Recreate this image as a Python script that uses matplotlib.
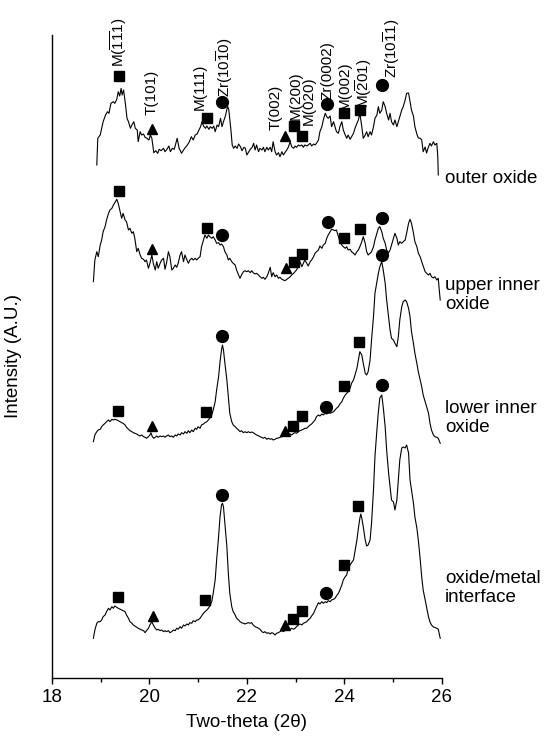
import numpy as np
import matplotlib
matplotlib.use('Agg')
import matplotlib.pyplot as plt
from matplotlib.ticker import MultipleLocator

plt.rcParams['font.family'] = ['Liberation Sans', 'DejaVu Sans']
plt.rcParams['mathtext.fontset'] = 'custom'
plt.rcParams['mathtext.rm'] = 'Liberation Sans'
plt.rcParams['mathtext.it'] = 'Liberation Sans:italic'
plt.rcParams['mathtext.bf'] = 'Liberation Sans:bold'

# --------------------------
# data: (two-theta, intensity above the trace baseline)
# --------------------------
outer_oxide = [
    (18.92, 3), (18.94, 29.7), (18.99, 33), (19.05, 46.3), (19.10, 53), (19.14, 56.3), (19.17, 54.7),
    (19.21, 64.7), (19.26, 66.3), (19.29, 64.7), (19.33, 68.7), (19.36, 76.3), (19.39, 72), (19.42, 79.7),
    (19.44, 73), (19.47, 78), (19.51, 63), (19.54, 49.7), (19.57, 46.3), (19.61, 39.7), (19.64, 43),
    (19.68, 46.3), (19.71, 39.7), (19.75, 38), (19.77, 26.3), (19.81, 36.3), (19.84, 33), (19.88, 34),
    (19.91, 30.7), (19.95, 29.7), (19.99, 28), (20.02, 33), (20.05, 29.7), (20.09, 15.3), (20.13, 17.3),
    (20.17, 14.7), (20.20, 18.7), (20.24, 17.3), (20.29, 19.7), (20.32, 16.3), (20.36, 18.7), (20.40, 22),
    (20.43, 16.3), (20.47, 19.7), (20.51, 18.7), (20.55, 26.3), (20.57, 29.7), (20.61, 19.7), (20.66, 14.7),
    (20.70, 18), (20.74, 20.7), (20.78, 23), (20.82, 26.3), (20.86, 31.3), (20.90, 28), (20.94, 33),
    (20.98, 34), (21.01, 37.3), (21.05, 41.3), (21.08, 46.3), (21.11, 42), (21.15, 39.7), (21.18, 42),
    (21.22, 38.7), (21.25, 41.3), (21.29, 39.7), (21.32, 42), (21.35, 36.3), (21.39, 43), (21.42, 41.3),
    (21.46, 49.7), (21.49, 41.3), (21.52, 46.3), (21.56, 52), (21.59, 58.7), (21.61, 61.3), (21.63, 58),
    (21.67, 39.7), (21.70, 23), (21.73, 19.7), (21.76, 22), (21.80, 19.7), (21.83, 24), (21.87, 21.3),
    (21.90, 17.3), (21.94, 20.7), (21.97, 19.7), (22.00, 13), (22.04, 16.3), (22.07, 18.7), (22.11, 20.7),
    (22.14, 24.7), (22.17, 18), (22.20, 23), (22.24, 16.3), (22.27, 19.7), (22.31, 18), (22.34, 20.7),
    (22.37, 16.3), (22.41, 20.7), (22.44, 18), (22.48, 20.7), (22.51, 16.3), (22.54, 26.3), (22.58, 16.3),
    (22.61, 13), (22.65, 15.3), (22.68, 11.3), (22.72, 16.3), (22.75, 13), (22.78, 15.3), (22.82, 18),
    (22.85, 20.7), (22.89, 26.3), (22.92, 21.3), (22.96, 19.7), (22.99, 22), (23.02, 20.7), (23.06, 23),
    (23.09, 22), (23.13, 23), (23.16, 20.7), (23.19, 23), (23.23, 22), (23.26, 23), (23.30, 24.7),
    (23.33, 22), (23.37, 24), (23.40, 23), (23.43, 24.7), (23.47, 28), (23.50, 36.3), (23.54, 41.3),
    (23.57, 48), (23.61, 54.7), (23.64, 51.3), (23.67, 49.7), (23.71, 52), (23.74, 41.3), (23.78, 46.3),
    (23.81, 41.3), (23.84, 36.3), (23.88, 34.7), (23.91, 41.3), (23.95, 46.3), (23.98, 38), (24.02, 33),
    (24.05, 29.7), (24.08, 33), (24.12, 28.7), (24.15, 31.3), (24.19, 34.7), (24.22, 39.7), (24.26, 44.7),
    (24.29, 48), (24.32, 54.7), (24.36, 41.3), (24.39, 29.7), (24.43, 33), (24.46, 36.3), (24.49, 31.3),
    (24.53, 36.3), (24.56, 33), (24.60, 41.3), (24.63, 49.7), (24.67, 53), (24.70, 61.3), (24.73, 54.7),
    (24.77, 58), (24.80, 66.3), (24.84, 61.3), (24.87, 54.7), (24.91, 48), (24.94, 54.7), (24.97, 46.3),
    (25.01, 43), (25.04, 48), (25.08, 41.3), (25.11, 46.3), (25.14, 51.3), (25.18, 58), (25.21, 61.3),
    (25.25, 68), (25.28, 74.7), (25.32, 75), (25.35, 66.3), (25.38, 58), (25.42, 52), (25.45, 41.3),
    (25.49, 34), (25.52, 30), (25.56, 29.7), (25.59, 28), (25.62, 16.3), (25.66, 21), (25.69, 15),
    (25.73, 21.3), (25.76, 24.7), (25.79, 22), (25.83, 26.3), (25.86, 23), (25.90, 24.7), (25.92, 11.3),
    (25.93, -7),
]

upper_inner = [
    (18.85, 8.3), (18.88, 30), (18.92, 38.3), (18.95, 33.3), (18.99, 45), (19.02, 50), (19.05, 58.3),
    (19.09, 63.3), (19.12, 70), (19.16, 76.7), (19.19, 80), (19.23, 81.7), (19.26, 85), (19.29, 87.3),
    (19.33, 90.7), (19.36, 86.7), (19.40, 78.3), (19.43, 71.7), (19.46, 76.7), (19.50, 70), (19.53, 68.3),
    (19.57, 60), (19.60, 61.7), (19.64, 56.7), (19.67, 58.3), (19.70, 51.7), (19.74, 38.3), (19.77, 41.7),
    (19.81, 35), (19.84, 31.7), (19.88, 30.7), (19.91, 28.3), (19.94, 30), (19.98, 21.7), (20.01, 26.7),
    (20.05, 35), (20.08, 26.7), (20.12, 20), (20.15, 28.3), (20.18, 21.7), (20.22, 26.7), (20.25, 30),
    (20.29, 31.7), (20.32, 20.7), (20.35, 26.7), (20.39, 38.3), (20.42, 33.3), (20.46, 20), (20.49, 21.7),
    (20.53, 25), (20.56, 22.7), (20.59, 26.7), (20.63, 35), (20.66, 38.3), (20.70, 28.3), (20.73, 35),
    (20.77, 30), (20.80, 26.7), (20.83, 30), (20.87, 31.7), (20.90, 30), (20.94, 31.7), (20.97, 30),
    (21.00, 31.7), (21.04, 33.3), (21.07, 43.3), (21.11, 50), (21.14, 55), (21.18, 51.7), (21.21, 55),
    (21.24, 53.3), (21.28, 51.7), (21.31, 53.3), (21.35, 50), (21.38, 46.7), (21.42, 47.3), (21.45, 45),
    (21.48, 46), (21.52, 43.3), (21.55, 38.3), (21.59, 35), (21.62, 30), (21.65, 31.7), (21.69, 28.3),
    (21.72, 26.7), (21.76, 25), (21.79, 20), (21.83, 15), (21.86, 11.7), (21.89, 15), (21.93, 18.3),
    (21.96, 19.3), (22.00, 18.3), (22.03, 19.3), (22.07, 17.3), (22.10, 19.3), (22.13, 17.3), (22.17, 16),
    (22.20, 16.7), (22.24, 15), (22.27, 13.3), (22.31, 11.7), (22.34, 12.7), (22.37, 10.7), (22.41, 13.3),
    (22.44, 16.7), (22.48, 22.7), (22.51, 13.3), (22.54, 17.3), (22.58, 13.3), (22.61, 15), (22.65, 11.7),
    (22.68, 12.7), (22.72, 10.7), (22.75, 10), (22.78, 9.3), (22.82, 10.7), (22.85, 11.7), (22.89, 13.3),
    (22.92, 15), (22.96, 16.7), (22.99, 18.3), (23.02, 20), (23.06, 24), (23.09, 28.3), (23.13, 23.3),
    (23.16, 26.7), (23.19, 30), (23.23, 26.7), (23.26, 24), (23.30, 28.3), (23.33, 30), (23.37, 33.3),
    (23.40, 36.7), (23.43, 38.3), (23.47, 40), (23.50, 44), (23.54, 41.7), (23.57, 45), (23.61, 46.7),
    (23.64, 51.7), (23.67, 55), (23.71, 58.3), (23.74, 60.7), (23.78, 60), (23.81, 59.3), (23.84, 60),
    (23.88, 53.3), (23.91, 48.3), (23.95, 45), (23.98, 43.3), (24.02, 41.7), (24.05, 43.3), (24.08, 40),
    (24.12, 40.7), (24.15, 38.3), (24.19, 36.7), (24.22, 35), (24.26, 38.3), (24.29, 40), (24.32, 43.3),
    (24.36, 48.3), (24.39, 53.3), (24.43, 46.7), (24.46, 38.3), (24.49, 35), (24.53, 36.7), (24.56, 38.3),
    (24.60, 43.3), (24.63, 50), (24.67, 56.7), (24.70, 61.7), (24.73, 63.3), (24.77, 58.3), (24.80, 51.7),
    (24.84, 46.7), (24.87, 40), (24.91, 37.3), (24.94, 40), (24.97, 45), (25.01, 51.7), (25.04, 56.7),
    (25.08, 51.7), (25.11, 45), (25.14, 48.3), (25.18, 46.7), (25.21, 48.3), (25.25, 50), (25.28, 56.7),
    (25.32, 66.7), (25.35, 70.7), (25.38, 66.7), (25.42, 57), (25.45, 48.3), (25.49, 43.3), (25.52, 37),
    (25.56, 33), (25.59, 28.3), (25.62, 24), (25.66, 18.3), (25.69, 16.7), (25.73, 15), (25.76, 16.7),
    (25.79, 13.3), (25.83, 12), (25.86, 13.3), (25.90, 10), (25.93, 11.7), (25.95, 0), (25.97, -10),
]

lower_inner = [
    (18.85, -1.7), (18.88, 5), (18.92, 8.3), (18.95, 10), (18.99, 10.7), (19.02, 13.3), (19.05, 15),
    (19.09, 16.7), (19.12, 18.3), (19.16, 20), (19.19, 18.3), (19.23, 20.7), (19.26, 20), (19.29, 20.7),
    (19.33, 20), (19.36, 19.3), (19.40, 18.3), (19.43, 17.3), (19.46, 16.7), (19.50, 15), (19.53, 12.7),
    (19.57, 10.7), (19.60, 9.3), (19.64, 8.3), (19.67, 7.3), (19.70, 6.7), (19.74, 6), (19.77, 5),
    (19.81, 4), (19.84, 5), (19.88, 3.3), (19.91, 2.7), (19.94, 1.7), (19.98, 3.3), (20.01, 5), (20.03, 7.3),
    (20.06, 3.3), (20.09, 1.7), (20.12, 2.7), (20.15, 4), (20.18, 2.7), (20.22, 4), (20.25, 3.3), (20.29, 4),
    (20.32, 2.7), (20.35, 4), (20.39, 5), (20.42, 3.3), (20.46, 4), (20.49, 2.7), (20.53, 5), (20.56, 4),
    (20.59, 6), (20.63, 5), (20.66, 7.3), (20.70, 6), (20.73, 8.3), (20.77, 6.7), (20.80, 9.3), (20.83, 7.3),
    (20.87, 10), (20.90, 8.3), (20.94, 11.7), (20.97, 10.7), (21.00, 13.3), (21.04, 11.7), (21.07, 15),
    (21.11, 16), (21.14, 17.3), (21.18, 18.3), (21.21, 20), (21.24, 21.7), (21.28, 25), (21.31, 30),
    (21.35, 38.3), (21.38, 50), (21.42, 63.3), (21.45, 78.3), (21.48, 90), (21.50, 95), (21.52, 90),
    (21.55, 76.7), (21.59, 60), (21.62, 43.3), (21.65, 26.7), (21.69, 18.3), (21.72, 15), (21.76, 13.3),
    (21.79, 11.7), (21.83, 10), (21.86, 8.3), (21.89, 9.3), (21.93, 7.3), (21.96, 8.3), (22.00, 7.3),
    (22.03, 8.3), (22.07, 7.3), (22.10, 8), (22.13, 7.3), (22.17, 6), (22.20, 5), (22.24, 4.2), (22.27, 3.3),
    (22.31, 2.5), (22.34, 1.7), (22.37, 2.7), (22.41, 0.7), (22.44, 1.7), (22.48, 0.7), (22.51, 1.3),
    (22.54, 0), (22.58, 0.7), (22.61, 1.7), (22.65, 2), (22.68, 2.7), (22.72, 3.3), (22.75, 4), (22.78, 4),
    (22.82, 5), (22.85, 4), (22.89, 6), (22.92, 5), (22.96, 6.7), (22.99, 7.3), (23.02, 6.7), (23.06, 8.3),
    (23.09, 9.3), (23.13, 10), (23.16, 10.7), (23.19, 11.7), (23.23, 11.7), (23.26, 13.3), (23.30, 15),
    (23.33, 16), (23.37, 18.3), (23.40, 20), (23.43, 23.3), (23.47, 25), (23.50, 24), (23.54, 26),
    (23.57, 25), (23.61, 26.7), (23.64, 26), (23.67, 27.3), (23.71, 26.7), (23.74, 27.3), (23.78, 28.3),
    (23.81, 30), (23.84, 31.7), (23.88, 33.3), (23.91, 36), (23.95, 38.3), (23.98, 41.7), (24.02, 45),
    (24.05, 46.7), (24.08, 48.3), (24.12, 51.7), (24.15, 56.7), (24.19, 60), (24.22, 65), (24.26, 71.7),
    (24.29, 80), (24.32, 88.3), (24.36, 85), (24.39, 76.7), (24.43, 66.7), (24.46, 65), (24.49, 68.3),
    (24.53, 80), (24.56, 100), (24.60, 123.3), (24.63, 146.7), (24.67, 158.3), (24.70, 166.7),
    (24.73, 173.3), (24.77, 178.3), (24.80, 170), (24.84, 156.7), (24.87, 140), (24.91, 123.3),
    (24.94, 110), (24.97, 101.7), (25.01, 100), (25.04, 96.7), (25.08, 93.3), (25.11, 103.3), (25.14, 120),
    (25.18, 133.3), (25.21, 138.3), (25.25, 140), (25.28, 138.3), (25.32, 131.7), (25.35, 123.3),
    (25.38, 108.3), (25.42, 96.7), (25.45, 86.7), (25.49, 76.7), (25.52, 68.3), (25.56, 60), (25.59, 53.3),
    (25.62, 45), (25.69, 33.3), (25.73, 26.7), (25.76, 16.7), (25.79, 10), (25.83, 5), (25.86, 3.3),
    (25.90, 2.7), (25.93, 1.7), (25.97, -3.3),
]

interface = [
    (18.85, 1.7), (18.88, 10), (18.92, 16.7), (18.95, 18.3), (18.99, 18.3), (19.02, 20), (19.05, 23.3),
    (19.09, 25), (19.12, 28.3), (19.16, 31.7), (19.19, 30), (19.23, 33.3), (19.26, 31.7), (19.29, 34),
    (19.33, 32.7), (19.36, 31.7), (19.40, 30.7), (19.43, 30), (19.46, 29.3), (19.50, 28.3), (19.53, 25),
    (19.57, 21.7), (19.60, 18.3), (19.64, 16.7), (19.67, 15), (19.70, 14), (19.74, 12.7), (19.77, 11.7),
    (19.81, 10.7), (19.84, 10), (19.88, 9.3), (19.91, 7.3), (19.94, 9.3), (19.98, 11.7), (20.01, 15),
    (20.05, 18.3), (20.08, 15), (20.12, 11.7), (20.15, 10), (20.18, 10.7), (20.22, 9.3), (20.25, 10),
    (20.29, 8.3), (20.32, 9.3), (20.35, 8.3), (20.39, 9.3), (20.42, 7.3), (20.46, 8.3), (20.49, 10),
    (20.53, 9.3), (20.56, 11.7), (20.59, 10.7), (20.63, 13.3), (20.66, 11.7), (20.70, 15), (20.73, 14),
    (20.77, 16), (20.80, 15), (20.83, 17.3), (20.87, 16.7), (20.90, 19.3), (20.94, 18.3), (20.97, 20),
    (21.00, 20), (21.04, 21.7), (21.07, 24), (21.11, 26.7), (21.14, 28.3), (21.18, 30), (21.21, 31.7),
    (21.24, 34), (21.28, 38.3), (21.31, 46.7), (21.35, 60), (21.38, 80), (21.42, 103.3), (21.45, 123.3),
    (21.48, 135), (21.50, 136.7), (21.52, 133.3), (21.55, 116.7), (21.59, 93.3), (21.62, 66.7),
    (21.65, 46.7), (21.69, 33.3), (21.72, 28.3), (21.76, 25), (21.79, 21.7), (21.83, 20), (21.86, 18.3),
    (21.89, 17.3), (21.93, 16.7), (21.96, 16), (22.00, 16.7), (22.03, 17.3), (22.07, 16.7), (22.10, 17.3),
    (22.13, 15), (22.17, 13.3), (22.20, 12.7), (22.24, 11.7), (22.27, 10.7), (22.31, 8.3), (22.34, 7.3),
    (22.37, 8.3), (22.41, 6.7), (22.44, 7.3), (22.48, 6), (22.51, 7.3), (22.54, 6.7), (22.58, 5),
    (22.61, 6.7), (22.65, 7.3), (22.68, 8.3), (22.72, 9.3), (22.75, 8.3), (22.78, 9.3), (22.82, 10.7),
    (22.85, 10), (22.89, 10.7), (22.92, 11.7), (22.96, 10.7), (22.99, 11.7), (23.02, 13.3), (23.06, 15),
    (23.09, 16), (23.13, 15), (23.16, 16.7), (23.19, 17.3), (23.23, 18.3), (23.26, 20), (23.30, 21.7),
    (23.33, 24), (23.37, 26.7), (23.40, 30), (23.43, 33.3), (23.47, 37.3), (23.50, 36), (23.54, 38.3),
    (23.57, 36.7), (23.61, 38.3), (23.64, 37.3), (23.67, 39.3), (23.71, 38.3), (23.74, 40), (23.78, 40.7),
    (23.81, 41.7), (23.84, 44), (23.88, 46.7), (23.91, 50), (23.95, 55), (23.98, 60), (24.02, 63.3),
    (24.05, 65), (24.08, 71.7), (24.12, 75), (24.15, 77.3), (24.19, 80), (24.22, 88.3), (24.26, 100),
    (24.29, 111.7), (24.32, 121.7), (24.34, 126), (24.36, 121.7), (24.39, 113.3), (24.43, 100), (24.46, 94),
    (24.49, 95), (24.53, 100), (24.56, 116.7), (24.60, 150), (24.63, 183.3), (24.67, 210), (24.70, 228),
    (24.73, 242), (24.77, 245), (24.80, 233), (24.84, 213), (24.87, 190), (24.91, 167), (24.94, 153),
    (24.97, 140), (25.01, 138), (25.04, 130), (25.08, 140), (25.11, 160), (25.14, 180), (25.18, 192),
    (25.21, 193), (25.25, 192), (25.28, 195), (25.32, 187), (25.35, 160), (25.38, 150), (25.42, 137),
    (25.45, 123), (25.49, 112), (25.52, 100), (25.56, 80), (25.59, 63), (25.62, 50), (25.66, 40),
    (25.69, 33), (25.73, 23), (25.76, 18), (25.79, 15), (25.83, 13), (25.86, 12.5), (25.90, 11.7),
    (25.93, 10.7), (25.97, 1.7),
]

layer_names = ['outer oxide', 'upper inner\noxide', 'lower inner\noxide', 'oxide/metal\ninterface']
layer_offsets = [510, 388, 238, 38]
layer_label_y = [499, 383, 260, 90]

# phase markers per layer: squares = monoclinic, triangles = tetragonal, circles = Zr
squares = [
    [(19.37, 92), (21.18, 50.5), (22.97, 42.3), (23.14, 32), (24.0, 55), (24.32, 58.3)],
    [(19.38, 99), (21.19, 62.3), (22.97, 28.3), (23.14, 36), (24.0, 52.3), (24.32, 60.7)],
    [(19.36, 29), (21.16, 28.3), (22.955, 13.7), (23.13, 24.3), (24.0, 54), (24.31, 97.7)],
    [(19.355, 42.5), (21.15, 40), (22.955, 20.8), (23.126, 28.7), (24.0, 75), (24.29, 134)],
]
triangles = [
    [(20.06, 39.5), (22.79, 32.5)],
    [(20.05, 40.5), (22.80, 21.7)],
    [(20.05, 14), (22.78, 9)],
    [(20.067, 24), (22.777, 14.5)],
]
circles = [
    [(21.50, 66.5), (23.65, 63.7), (24.78, 83)],
    [(21.50, 54.7), (23.67, 67.7), (24.78, 71.7)],
    [(21.50, 104), (23.625, 33.3), (24.77, 185.3)],
    [(21.483, 145), (23.625, 46.7), (24.77, 255)],
]

peak_labels = [r'M($\overline{11}$1)', 'T(101)', 'M(111)', r'Zr(10$\overline{1}$0)', 'T(002)',
               'M(200)', 'M(020)', 'Zr(0002)', 'M(002)', r'M($\overline{2}$01)', r'Zr(10$\overline{1}$1)']
peak_label_x = [19.375, 20.04, 21.04, 21.55, 22.59, 23.0, 23.28, 23.66, 24.02, 24.40, 24.98]
peak_label_y = [611, 563, 568, 581, 548, 558, 553, 578, 568, 570, 600]

# --------------------------
# plot
# --------------------------
fig = plt.figure(figsize=(5.56, 7.37), dpi=100)
ax = fig.add_axes([0.0935, 0.0801, 0.7009, 0.8724])

traces = [outer_oxide, upper_inner, lower_inner, interface]
for i, trace in enumerate(traces):
    tt, inten = np.array(trace).T
    off = layer_offsets[i]
    ax.plot(tt, inten + off, color='black', linewidth=0.8)

    sx, sy = np.array(squares[i]).T
    ax.plot(sx, sy + off, 's', color='black', markersize=7, clip_on=False)
    tx, ty = np.array(triangles[i]).T
    ax.plot(tx, ty + off, '^', color='black', markersize=7, clip_on=False)
    cx, cy = np.array(circles[i]).T
    ax.plot(cx, cy + off, 'o', color='black', markersize=8.5, clip_on=False)

    ax.text(26.07, layer_label_y[i], layer_names[i], ha='left', va='center',
            fontsize=13.5, clip_on=False, linespacing=1.15)

for name, x, y in zip(peak_labels, peak_label_x, peak_label_y):
    ax.text(x, y, name, rotation=90, ha='center', va='bottom', fontsize=11, clip_on=False)

ax.set_xlim(18, 26)
ax.set_ylim(0, 643)
ax.xaxis.set_major_locator(MultipleLocator(2))
ax.xaxis.set_minor_locator(MultipleLocator(1))
ax.tick_params(axis='x', which='major', direction='out', length=4, width=1, labelsize=13.5, pad=4)
ax.tick_params(axis='x', which='minor', direction='out', length=3, width=1)
ax.set_yticks([])
for s in ['top', 'right']:
    ax.spines[s].set_visible(False)
for s in ['left', 'bottom']:
    ax.spines[s].set_linewidth(1)

ax.set_xlabel('Two-theta (2θ)', fontsize=13.5, labelpad=6)
ax.set_ylabel('Intensity (A.U.)', fontsize=13.5)
ax.yaxis.set_label_coords(-0.077, 0.5)

fig.savefig('out.png', dpi=100)
